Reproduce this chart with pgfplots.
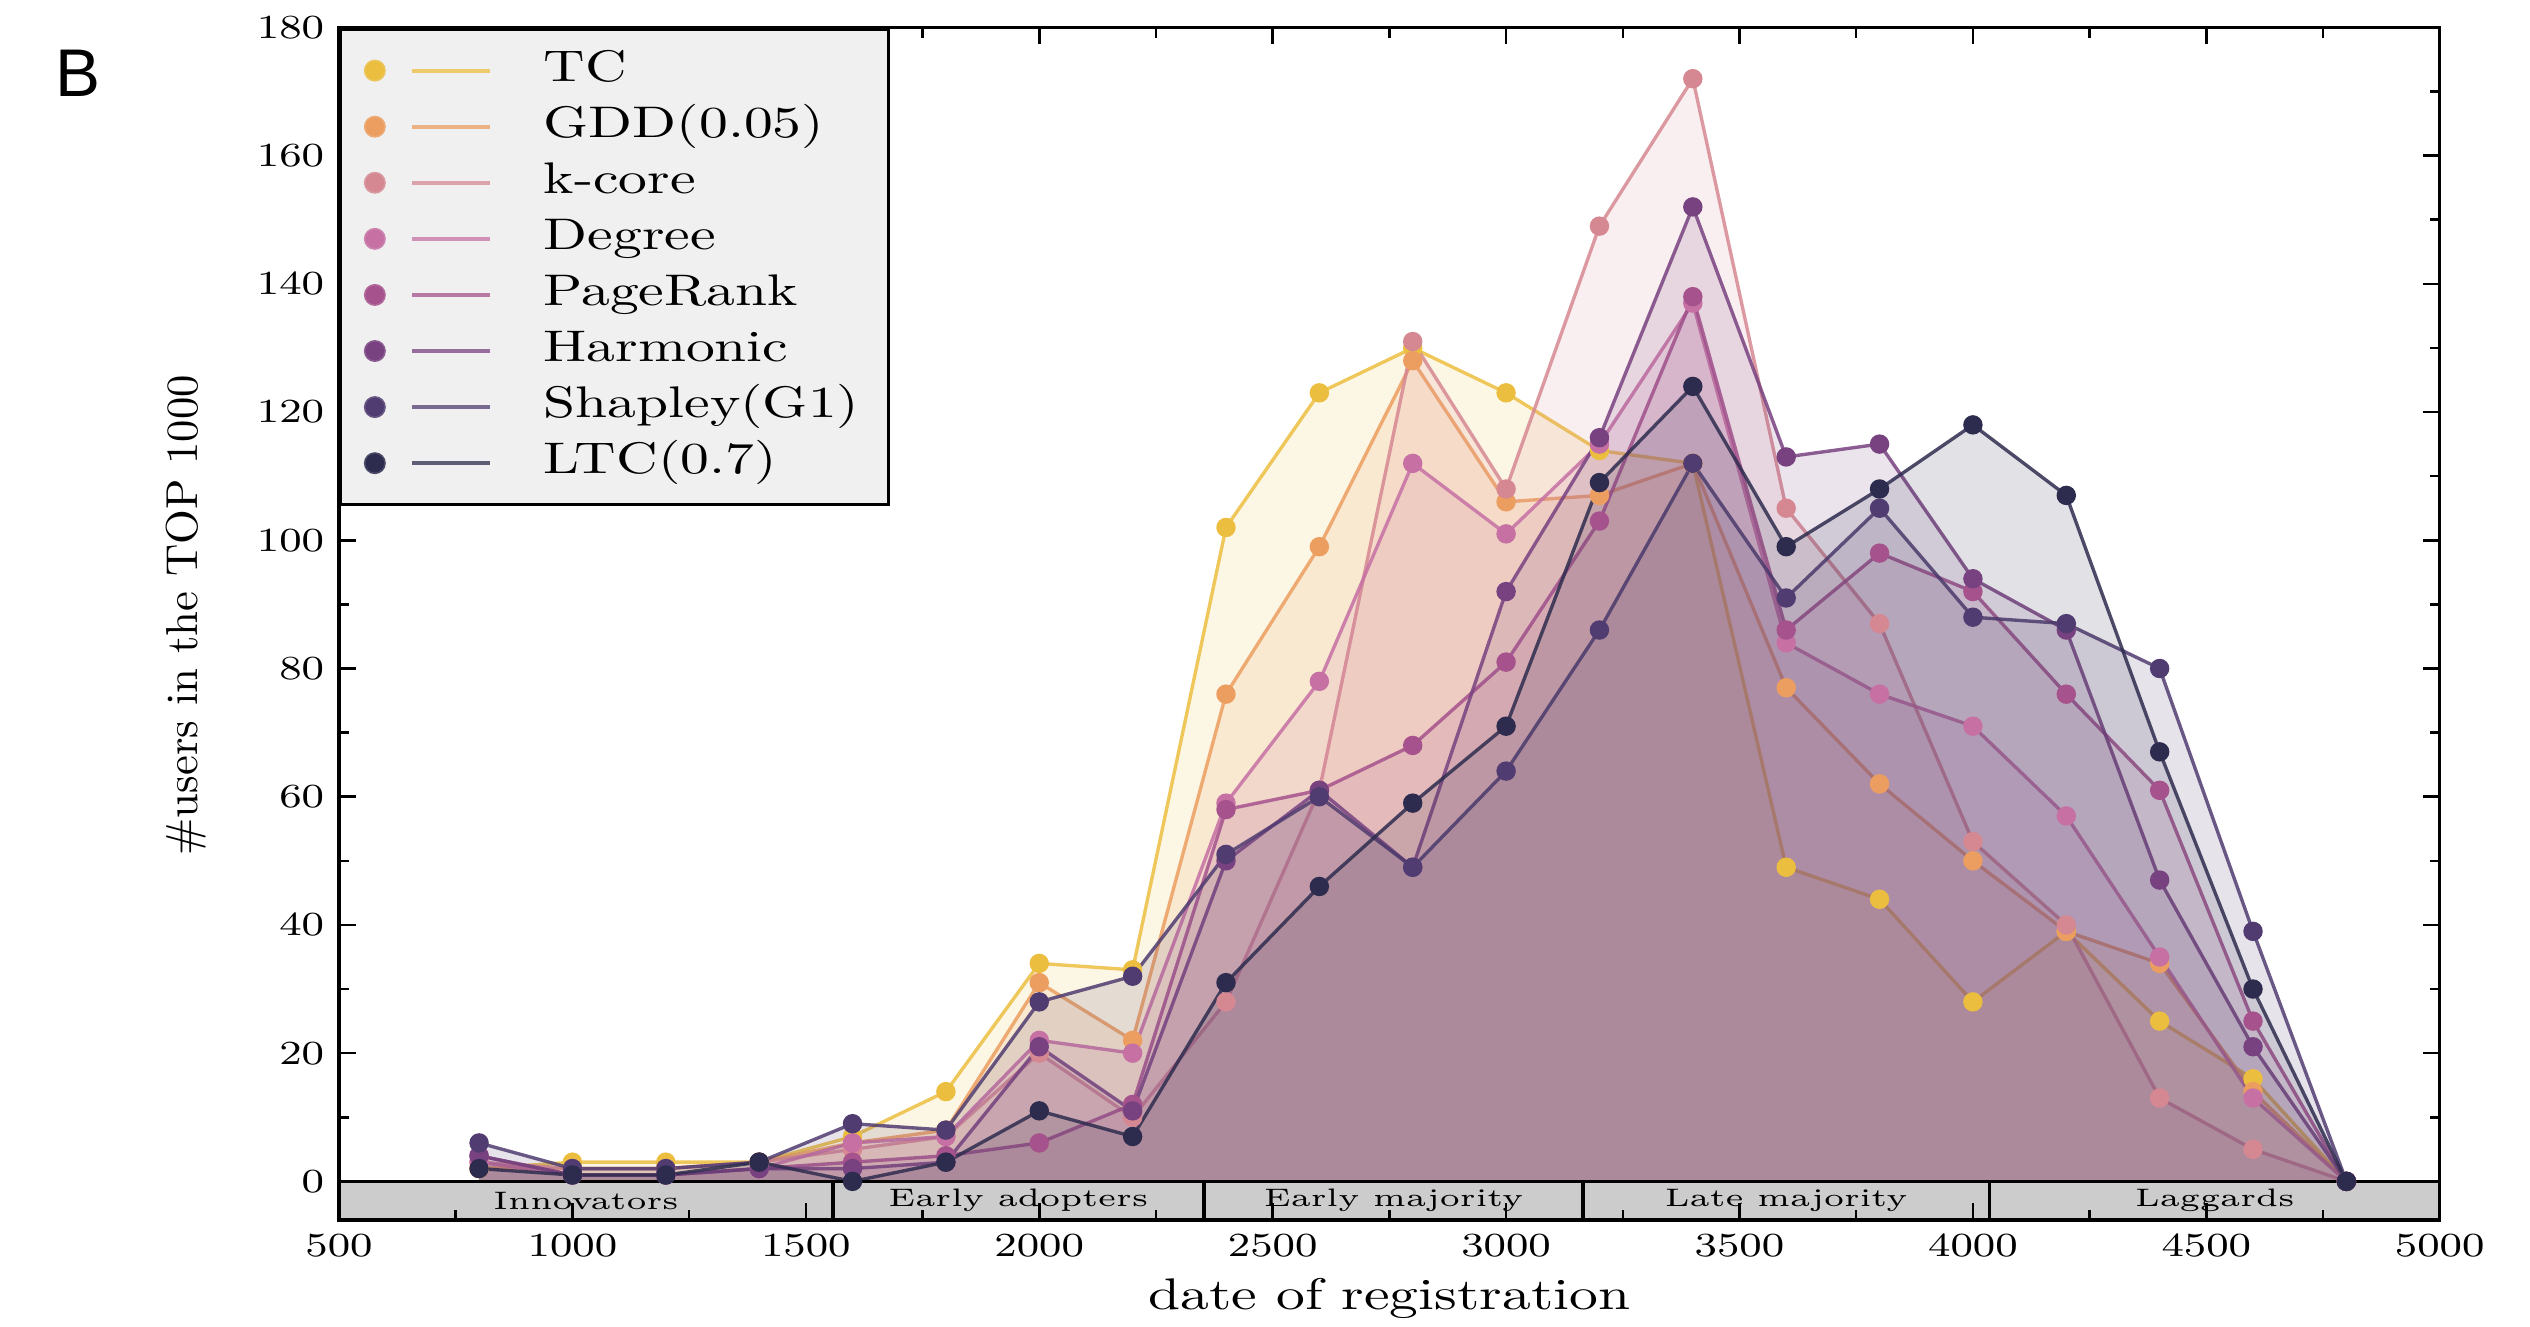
\documentclass[border=0pt]{standalone}
\usepackage{fontspec}
\usepackage{graphicx}
\usepackage{pgfplots}
\usepackage{pgfplotstable}
\pgfplotsset{compat=1.18}
\newfontfamily\arialf{Liberation Sans}
\newcommand{\wx}[1]{\scalebox{1.3}[1]{#1}}

\definecolor{cTC}{RGB}{236,190,64}
\definecolor{cGDD}{RGB}{236,158,96}
\definecolor{cKC}{RGB}{214,136,146}
\definecolor{cDEG}{RGB}{198,112,164}
\definecolor{cPR}{RGB}{166,82,140}
\definecolor{cHAR}{RGB}{120,66,128}
\definecolor{cSHA}{RGB}{80,60,112}
\definecolor{cLTC}{RGB}{46,44,78}

\pgfplotstableread{
x    TC  GDD kcore Degree PageRank Harmonic Shapley LTC
800  2   2   3     3      4        4        6       2
1000 3   2   2     1      1        1        2       1
1200 3   2   2     1      1        1        2       1
1400 3   3   3     2      2        2        3       3
1600 7   6   5     6      3        2        9       0
1800 14  8   7     7      4        3        8       3
2000 34  31  20    22     6        21       28      11
2200 33  22  10    20     12       11       32      7
2400 102 76  28    59     58       50       51      31
2600 123 99  61    78     61       61       60      46
2800 130 128 131   112    68       49       49      59
3000 123 106 108   101    81       92       64      71
3200 114 107 149   115    103      116      86      109
3400 112 112 172   137    138      152      112     124
3600 49  77  105   84     86       113      91      99
3800 44  62  87    76     98       115      105     108
4000 28  50  53    71     92       94       88      118
4200 39  39  40    57     76       86       87      107
4400 25  34  13    35     61       47       80      67
4600 16  14  5     13     25       21       39      30
4800 0   0   0     0      0        0        0       0
}\data

\pgfplotsset{
  area/.style={draw=none, fill=#1, fill opacity=0.14, forget plot},
  ser/.style={draw=#1, draw opacity=0.85, line width=0.8pt, mark=*, mark size=1.9pt,
    mark options={draw=none, fill=#1, fill opacity=1, draw opacity=1},
    legend image code/.code={\fill[#1] (0pt,0pt) circle (2.2pt);
      \draw[#1, opacity=0.75, line width=0.9pt] (8.8pt,0pt) -- (27.4pt,0pt);}},
}

\begin{document}
\begin{tikzpicture}
\useasboundingbox (-80.4pt,-25.3pt) rectangle (519.6pt,289.3pt);
\begin{axis}[
  at={(0pt,0pt)}, anchor=south west,
  width=498.2pt, height=282.8pt, scale only axis,
  xmin=500, xmax=5000, ymin=-6, ymax=180,
  xtick={500,1000,...,5000}, ytick={0,20,...,180},
  minor x tick num=1, minor y tick num=1,
  tick align=inside,
  major tick length=4pt, minor tick length=2.4pt,
  axis on top,
  axis line style={line width=0.8pt},
  every tick/.style={black, line width=0.6pt},
  /pgf/number format/1000 sep={},
  tick label style={font=\fontsize{8}{9}\selectfont},
  xticklabel={\scalebox{1.25}[1]{\pgfmathprintnumber{\tick}}},
  yticklabel={\scalebox{1.25}[1]{\pgfmathprintnumber{\tick}}},
  xlabel={\wx{date of registration}},
  ylabel={\#users in the TOP 1000},
  xlabel style={at={(axis description cs:0.5,-0.0663)}, anchor=center, font=\fontsize{10.5}{12}\selectfont},
  ylabel style={at={(axis description cs:-0.073,0.507)}, anchor=center, font=\fontsize{10.6}{12}\selectfont},
  legend cell align=left,
  legend style={at={(0,1)}, anchor=north west, fill=gray!12, draw=black, line width=0.8pt,
    font=\fontsize{10.5}{12}\selectfont, inner xsep=5.5pt, inner ysep=3.2pt, row sep=0pt,
    nodes={inner sep=1.5pt, text height=7.7pt, text depth=2.6pt},
    /tikz/every odd column/.append style={column sep=10.7pt}},
  legend entries={\wx{TC},\wx{GDD(0.05)},\wx{k-core},\wx{Degree},\wx{PageRank},\wx{Harmonic},\wx{Shapley(G1)},\wx{LTC(0.7)}},
]
\addplot[area=cTC] table[x=x,y=TC] {\data} \closedcycle;
\addplot[ser=cTC] table[x=x,y=TC] {\data};
\addplot[area=cGDD] table[x=x,y=GDD] {\data} \closedcycle;
\addplot[ser=cGDD] table[x=x,y=GDD] {\data};
\addplot[area=cKC] table[x=x,y=kcore] {\data} \closedcycle;
\addplot[ser=cKC] table[x=x,y=kcore] {\data};
\addplot[area=cDEG] table[x=x,y=Degree] {\data} \closedcycle;
\addplot[ser=cDEG] table[x=x,y=Degree] {\data};
\addplot[area=cPR] table[x=x,y=PageRank] {\data} \closedcycle;
\addplot[ser=cPR] table[x=x,y=PageRank] {\data};
\addplot[area=cHAR] table[x=x,y=Harmonic] {\data} \closedcycle;
\addplot[ser=cHAR] table[x=x,y=Harmonic] {\data};
\addplot[area=cSHA] table[x=x,y=Shapley] {\data} \closedcycle;
\addplot[ser=cSHA] table[x=x,y=Shapley] {\data};
\addplot[area=cLTC] table[x=x,y=LTC] {\data} \closedcycle;
\addplot[ser=cLTC] table[x=x,y=LTC] {\data};

\fill[gray!40] (axis cs:500,-6) rectangle (axis cs:5000,0);
\draw[line width=0.8pt] (axis cs:500,0) -- (axis cs:5000,0);
\draw[line width=0.8pt] (axis cs:1558,-6) -- (axis cs:1558,0);
\draw[line width=0.8pt] (axis cs:2353,-6) -- (axis cs:2353,0);
\draw[line width=0.8pt] (axis cs:3165,-6) -- (axis cs:3165,0);
\draw[line width=0.8pt] (axis cs:4036,-6) -- (axis cs:4036,0);
\node[font=\fontsize{6}{7}\selectfont] at (axis cs:1029,-3) {\wx{Innovators}};
\node[font=\fontsize{6}{7}\selectfont] at (axis cs:1955,-3) {\wx{Early adopters}};
\node[font=\fontsize{6}{7}\selectfont] at (axis cs:2759,-3) {\wx{Early majority}};
\node[font=\fontsize{6}{7}\selectfont] at (axis cs:3600,-3) {\wx{Late majority}};
\node[font=\fontsize{6}{7}\selectfont] at (axis cs:4518,-3) {\wx{Laggards}};
\end{axis}
\node[font=\arialf\fontsize{16}{18}\selectfont] at (-62pt,272pt) {B};
\end{tikzpicture}
\end{document}
